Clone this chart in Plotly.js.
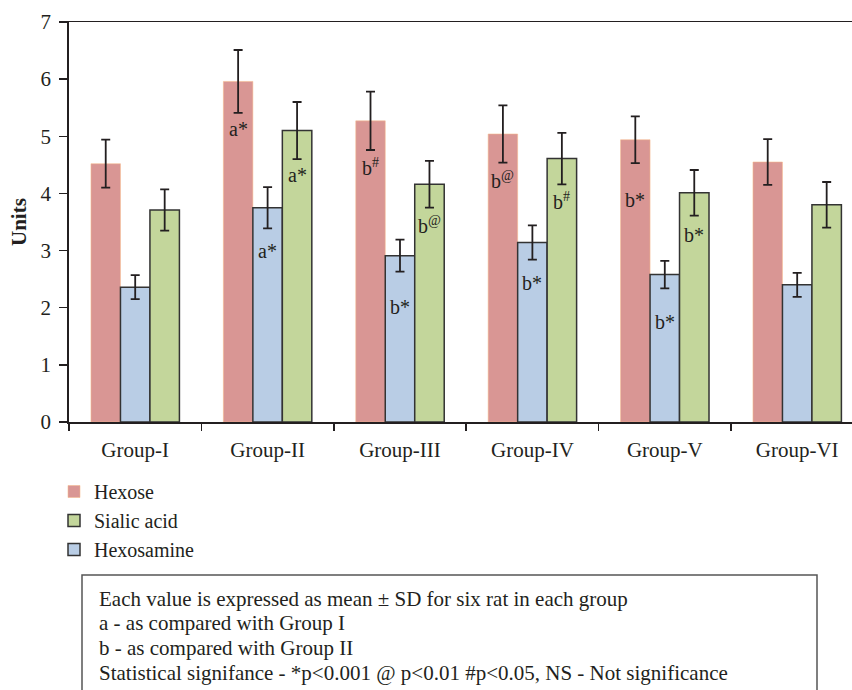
<!DOCTYPE html>
<html>
<head>
<meta charset="utf-8">
<script src="https://cdn.plot.ly/plotly-3.0.1.min.js"></script>
<style>html,body{margin:0;padding:0;background:#fff;}#chart{width:852px;height:690px;}</style>
</head>
<body>
<div id="chart"></div>
<script>
// ---- data ----
const groups = ["Group-I", "Group-II", "Group-III", "Group-IV", "Group-V", "Group-VI"];
const hexose = [4.52, 5.96, 5.27, 5.04, 4.94, 4.55];
const hexoseSD = [0.42, 0.55, 0.51, 0.50, 0.41, 0.40];
const hexosamine = [2.36, 3.75, 2.91, 3.14, 2.58, 2.40];
const hexosamineSD = [0.21, 0.36, 0.28, 0.30, 0.24, 0.21];
const sialic = [3.71, 5.10, 4.16, 4.61, 4.01, 3.80];
const sialicSD = [0.36, 0.50, 0.41, 0.45, 0.40, 0.40];
const hexoseLabels = ["", "a*", "b<sup>#</sup>", "b<sup>@</sup>", "b*", ""];
const hexosamineLabels = ["", "a*", "b*", "b*", "b*", ""];
const sialicLabels = ["", "a*", "b<sup>@</sup>", "b<sup>#</sup>", "b*", ""];
const footnotes = [
  "Each value is expressed as mean \u00b1 SD for six rat in each group",
  "a - as compared with Group I",
  "b - as compared with Group II",
  "Statistical signifance - *p<0.001 @ p<0.01 #p<0.05, NS - Not significance"
];

// ---- styling ----
const FONT = "Liberation Serif";
const INK = "#231F20";
const W = 852, H = 690, ML = 69, MT = 22, MB = 268;
const plotW = W - ML, plotH = H - MT - MB;
const bargap = 0.332;
const px2x = px => (px - ML) / plotW;
const px2y = py => (H - MB - py) / plotH;
// extra pixel gap below the error bar for individual labels (layout nudges)
const labelNudge = [
  [0, 0, 0, 0, -21, 0],
  [0, -7, -19, -7, -18, 0],
  [0, 0, 0, 0, -3, 0]
];

const errStyle = sd => ({type: "data", array: sd, visible: true, color: INK, thickness: 1.8, width: 4.5});

const traces = [
  {type: "bar", name: "Hexose", x: groups, y: hexose, error_y: errStyle(hexoseSD),
   marker: {color: "#D99694", line: {color: "rgba(245,185,140,0.55)", width: 1}},
   legendgroup: "g1", legendrank: 1},
  {type: "bar", name: "Hexosamine", x: groups, y: hexosamine, error_y: errStyle(hexosamineSD),
   marker: {color: "#B9CDE5", line: {color: "#333333", width: 1.5}},
   legendgroup: "g3", legendrank: 3},
  {type: "bar", name: "Sialic acid", x: groups, y: sialic, error_y: errStyle(sialicSD),
   marker: {color: "#C3D69B", line: {color: "#333333", width: 1.5}},
   legendgroup: "g2", legendrank: 2}
];

// significance labels under error bars
const annotations = [];
const series = [[hexose, hexoseSD, hexoseLabels], [hexosamine, hexosamineSD, hexosamineLabels], [sialic, sialicSD, sialicLabels]];
const slot = (1 - bargap) / 3;
series.forEach(([vals, sds, labs], k) => {
  labs.forEach((t, i) => {
    if (!t) return;
    annotations.push({x: i + (k - 1) * slot, y: vals[i] - sds[i], xref: "x", yref: "y",
      text: t, showarrow: false, yanchor: "top", xanchor: "center", yshift: -3 + labelNudge[k][i],
      font: {family: FONT, size: 20, color: INK}});
  });
});

// y-axis title
annotations.push({xref: "paper", yref: "paper", x: px2x(19), y: px2y(222), xanchor: "center", yanchor: "middle",
  text: "<b>Units</b>", textangle: -90, showarrow: false, font: {family: FONT, size: 21, color: INK}});

// footnotes
const noteY = [599, 623, 648, 673];
footnotes.forEach((t, i) => {
  annotations.push({xref: "paper", yref: "paper", x: px2x(97), y: px2y(noteY[i]), xanchor: "left",
    yanchor: "middle", text: t, showarrow: false, align: "left",
    font: {family: FONT, size: 21, color: INK}});
});

const layout = {
  width: W, height: H,
  margin: {l: ML, r: 0, t: MT, b: MB, pad: 0},
  paper_bgcolor: "#fff", plot_bgcolor: "#fff",
  barmode: "group", bargap: bargap, bargroupgap: 0,
  font: {family: FONT, color: INK},
  showlegend: true,
  legend: {x: px2x(54), y: px2y(472), xanchor: "left", yanchor: "top", orientation: "v",
    font: {family: FONT, size: 20, color: INK}, tracegroupgap: 0, bgcolor: "rgba(0,0,0,0)"},
  xaxis: {type: "category", range: [-0.5, 5.414], tickson: "boundaries", ticks: "outside", ticklen: 7,
    tickwidth: 1.5, tickcolor: INK, showline: true, mirror: true, linecolor: INK, linewidth: 1.5,
    ticklabelstandoff: 8,
    showgrid: false, zeroline: false, tickfont: {family: FONT, size: 21, color: INK}, fixedrange: true},
  yaxis: {range: [0, 7], dtick: 1, ticks: "outside", ticklen: 8, tickwidth: 1.5, tickcolor: INK,
    showline: true, linecolor: INK, linewidth: 1.8, showgrid: false, zeroline: false,
    ticklabelstandoff: 4, tickfont: {family: FONT, size: 21, color: INK}, fixedrange: true},
  shapes: [{type: "rect", xref: "paper", yref: "paper", x0: px2x(82), x1: px2x(817), y0: px2y(575), y1: px2y(720),
    line: {color: "#555", width: 1.5}, fillcolor: "rgba(0,0,0,0)"}],
  annotations: annotations
};

Plotly.newPlot("chart", traces, layout, {displayModeBar: false, staticPlot: true});
</script>
</body>
</html>
